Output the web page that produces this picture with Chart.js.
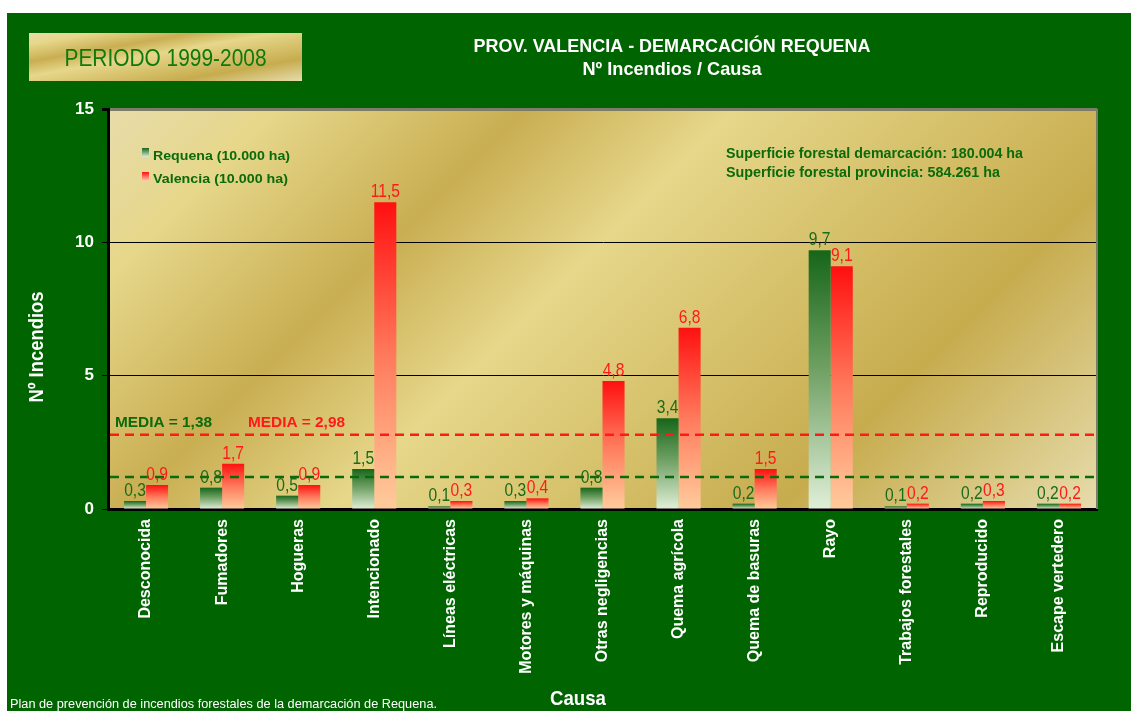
<!DOCTYPE html>
<html><head><meta charset="utf-8">
<script src="https://cdn.jsdelivr.net/npm/chart.js@4.4.1/dist/chart.umd.min.js"></script>
<style>html,body{margin:0;padding:0;background:#fff;}#wrap{position:relative;width:1131px;height:711px;}canvas{display:block;}</style>
</head><body><div id="wrap"><canvas id="c" width="1131" height="711"></canvas></div>
<script>
const categories = ["Desconocida","Fumadores","Hogueras","Intencionado","Líneas eléctricas","Motores y máquinas","Otras negligencias","Quema agrícola","Quema de basuras","Rayo","Trabajos forestales","Reproducido","Escape vertedero"];
const requena = [0.3,0.8,0.5,1.5,0.1,0.3,0.8,3.4,0.2,9.7,0.1,0.2,0.2];
const valencia = [0.9,1.7,0.9,11.5,0.3,0.4,4.8,6.8,1.5,9.1,0.2,0.3,0.2];
const yTicks = [0,5,10,15];
const seriesNames = ["Requena (10.000 ha)","Valencia (10.000 ha)"];
const mediaLabels = ["MEDIA = 1,38","MEDIA = 2,98"];
const mediaLinePos = [1.2, 2.78];
const titleLines = ["PROV. VALENCIA - DEMARCACIÓN REQUENA","Nº Incendios / Causa"];
const periodText = "PERIODO 1999-2008";
const noteLines = ["Superficie forestal demarcación: 180.004 ha","Superficie forestal provincia: 584.261 ha"];
const footerText = "Plan de prevención de incendios forestales de la demarcación de Requena.";
const yTitle = "Nº Incendios";
const xTitle = "Causa";

const SANS = '"Liberation Sans",Arial,sans-serif';
const GREEN_BG = '#006400';
const DKGREEN = '#0b6b0b';
const RED = '#ff1a1a';

function txt(ctx, s, x, y, font, color, align, w, rot, sx){
  ctx.save();
  ctx.font = font; ctx.fillStyle = color; ctx.textBaseline = 'alphabetic'; ctx.textAlign = align;
  ctx.translate(x, y); if (rot) ctx.rotate(rot);
  const m = ctx.measureText(s).width;
  if (w && m > 0) ctx.scale(w / m, 1); else if (sx) ctx.scale(sx, 1);
  ctx.fillText(s, 0, 0);
  ctx.restore();
}
const GOLD = [[0,'#e8dcaa'],[0.12,'#e6d78a'],[0.30,'#c9ae52'],[0.45,'#e6d78a'],[0.77,'#c7ac4e'],[1,'#e6dcac']];
function goldCorner(ctx, x0, y0, x1, y1){
  const W = x1 - x0, H = y1 - y0, k = 2 * W * H / (W * W + H * H);
  const g = ctx.createLinearGradient(x0, y0, x0 + H * k, y0 + W * k);
  GOLD.forEach(s => g.addColorStop(s[0], s[1]));
  return g;
}
function gold45(ctx, x0, y0, x1, y1){
  const L = ((x1 - x0) + (y1 - y0)) / 2;
  const g = ctx.createLinearGradient(x0, y0, x0 + L, y0 + L);
  GOLD.forEach(s => g.addColorStop(s[0], s[1]));
  return g;
}
function barFill(kind){
  return (c) => {
    const ch = c.chart; const solid = kind === 'g' ? '#1f6f1f' : '#ff2020';
    if (!ch.chartArea || c.type !== 'data') return solid;
    const ys = ch.scales.y; const top = ys.getPixelForValue(c.raw), bot = ys.getPixelForValue(0);
    if (!isFinite(top) || bot - top < 1) return solid;
    const g = ch.ctx.createLinearGradient(0, top, 0, bot);
    if (kind === 'g') { g.addColorStop(0,'#16661a'); g.addColorStop(0.45,'#6e9f62'); g.addColorStop(1,'#e0efd8'); }
    else { g.addColorStop(0,'#ff1010'); g.addColorStop(0.5,'#ff7a5c'); g.addColorStop(1,'#ffcc9c'); }
    return g;
  };
}
function fmt(v){ return v.toFixed(1).replace('.', ','); }

const bgPlugin = {
  id: 'bg',
  beforeDraw(chart){
    const ctx = chart.ctx, a = chart.chartArea;
    ctx.save();
    ctx.fillStyle = '#fff'; ctx.fillRect(0, 0, 1131, 711);
    ctx.fillStyle = GREEN_BG; ctx.fillRect(7, 13, 1124, 698);
    ctx.fillStyle = goldCorner(ctx, 29, 33, 302, 81); ctx.fillRect(29, 33, 273, 48);
    ctx.fillStyle = gold45(ctx, a.left, a.top, a.right, a.bottom);
    ctx.fillRect(a.left, a.top, a.right - a.left, a.bottom - a.top);
    ctx.restore();
    txt(ctx, periodText, 165.5, 66, '23px ' + SANS, '#0d7a0d', 'center', 202);
    txt(ctx, titleLines[0], 672, 52, 'bold 19px ' + SANS, '#fff', 'center', 397);
    txt(ctx, titleLines[1], 672, 75, 'bold 19px ' + SANS, '#fff', 'center', 179);
    txt(ctx, yTitle, 43, 347, 'bold 21px ' + SANS, '#fff', 'center', 111, -Math.PI / 2);
    txt(ctx, xTitle, 578, 705, 'bold 21px ' + SANS, '#fff', 'center', 56);
    txt(ctx, footerText, 10, 708, '12px ' + SANS, '#fff', 'left', 427);
  }
};

const overlayPlugin = {
  id: 'overlay',
  afterDatasetsDraw(chart){
    const ctx = chart.ctx, a = chart.chartArea, ys = chart.scales.y;
    ctx.save();
    ctx.strokeStyle = '#7d7c68'; ctx.lineWidth = 2;
    ctx.beginPath(); ctx.moveTo(a.right, a.top); ctx.lineTo(a.right, a.bottom); ctx.stroke();
    ctx.setLineDash([9, 6]); ctx.lineWidth = 2.5;
    [DKGREEN, RED].forEach((col, i) => {
      const y = ys.getPixelForValue(mediaLinePos[i]);
      ctx.strokeStyle = col; ctx.beginPath(); ctx.moveTo(a.left + 2, y); ctx.lineTo(a.right, y); ctx.stroke();
    });
    ctx.restore();
    [[0, '#1a6b1a'], [1, RED]].forEach(([di, col]) => {
      const meta = chart.getDatasetMeta(di);
      const data = chart.data.datasets[di].data;
      meta.data.forEach((el, i) => {
        txt(ctx, fmt(data[i]), el.x, el.y - 5, '19px ' + SANS, col, 'center', 0, 0, 0.82);
      });
    });
    txt(ctx, mediaLabels[0], 115, 427, 'bold 15px ' + SANS, DKGREEN, 'left', 97);
    txt(ctx, mediaLabels[1], 248, 427, 'bold 15px ' + SANS, RED, 'left', 97);
    const sq = [[148, ['#16661a', '#dfeed6']], [172, ['#ff1010', '#ffd0b0']]];
    sq.forEach(([y, cols]) => {
      const g = ctx.createLinearGradient(0, y, 0, y + 9);
      g.addColorStop(0, cols[0]); g.addColorStop(1, cols[1]);
      ctx.fillStyle = g; ctx.fillRect(142, y, 7, 9);
    });
    txt(ctx, seriesNames[0], 153, 160, 'bold 13px ' + SANS, DKGREEN, 'left', 137);
    txt(ctx, seriesNames[1], 153, 183, 'bold 13px ' + SANS, DKGREEN, 'left', 135);
    txt(ctx, noteLines[0], 726, 158, 'bold 15px ' + SANS, DKGREEN, 'left', 297);
    txt(ctx, noteLines[1], 726, 177, 'bold 15px ' + SANS, DKGREEN, 'left', 274);
  }
};

new Chart(document.getElementById('c'), {
  type: 'bar',
  data: {
    labels: categories,
    datasets: [
      { label: seriesNames[0], data: requena, backgroundColor: barFill('g'), borderWidth: 0, categoryPercentage: 0.58, barPercentage: 1 },
      { label: seriesNames[1], data: valencia, backgroundColor: barFill('r'), borderWidth: 0, categoryPercentage: 0.58, barPercentage: 1 }
    ]
  },
  options: {
    responsive: false, animation: false, devicePixelRatio: 1,
    layout: { padding: { left: 0, top: 109, right: 34, bottom: 0 } },
    plugins: { legend: { display: false }, title: { display: false }, tooltip: { enabled: false } },
    scales: {
      x: {
        grid: { display: false, drawTicks: false },
        border: { display: true, color: '#000', width: 3 },
        ticks: { color: '#fff', font: { family: SANS, size: 16, weight: 'bold' }, minRotation: 90, maxRotation: 90, padding: 10, autoSkip: false },
        afterFit: (s) => { s.height = 202; }
      },
      y: {
        min: 0, max: 15,
        afterBuildTicks: (s) => { s.ticks = yTicks.map(v => ({ value: v })); },
        ticks: { color: '#fff', font: { family: SANS, size: 17, weight: 'bold' }, padding: 8 },
        grid: {
          color: (c) => c.tick.value === 0 ? 'rgba(0,0,0,0)' : (c.tick.value === 15 ? '#7d7c68' : '#000'),
          lineWidth: (c) => c.tick.value === 15 ? 3 : 1,
          tickColor: '#000', tickLength: 6, drawTicks: true
        },
        border: { color: '#000', width: 3 },
        afterFit: (s) => { s.width = 108; }
      }
    }
  },
  plugins: [bgPlugin, overlayPlugin]
});
</script>
</body></html>
